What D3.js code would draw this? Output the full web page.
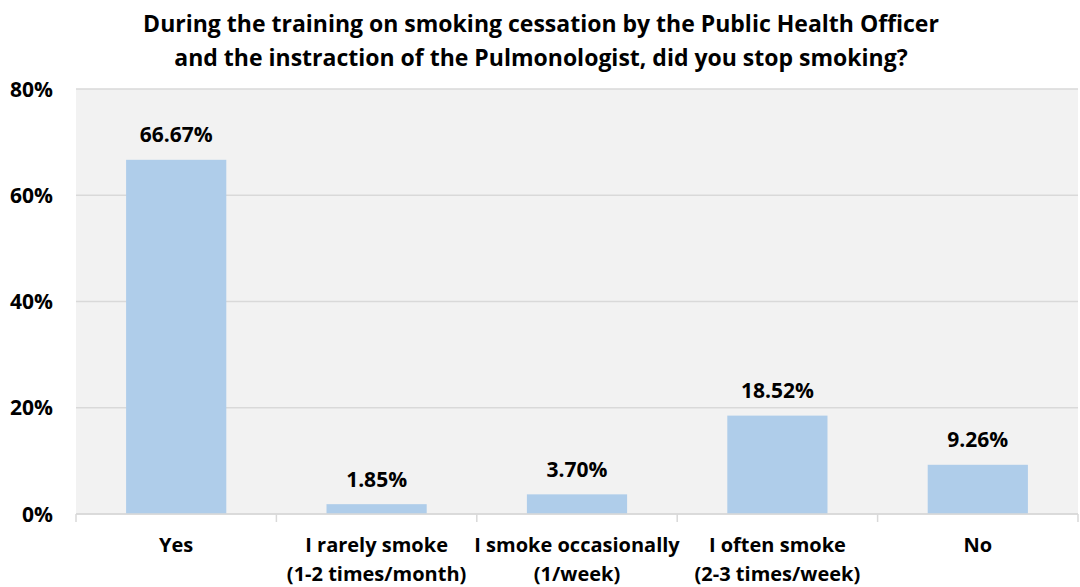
<!DOCTYPE html>
<html>
<head>
<meta charset="utf-8" />
<title>Smoking cessation</title>
<script src="https://d3js.org/d3.v7.min.js"></script>
<style>
  body { margin: 0; background: #fff; }
  text { font-family: "Open Sans", sans-serif; font-weight: bold; fill: #000; }
</style>
</head>
<body>
<script>
// data
const categories = [
  ["Yes"],
  ["I rarely smoke", "(1-2 times/month)"],
  ["I smoke occasionally", "(1/week)"],
  ["I often smoke", "(2-3 times/week)"],
  ["No"]
];
const values = [66.67, 1.85, 3.70, 18.52, 9.26];
const yTicks = [0, 20, 40, 60, 80];
const titleLines = [
  "During the training on smoking cessation by the Public Health Officer",
  "and the instraction of the Pulmonologist, did you stop smoking?"
];

const width = 1080, height = 587;
const margin = { top: 89, right: 2, bottom: 73, left: 76 };
const innerW = width - margin.left - margin.right;
const innerH = height - margin.top - margin.bottom;

const svg = d3.select("body").append("svg")
  .attr("width", width)
  .attr("height", height);

// title
svg.append("g").selectAll("text")
  .data(titleLines)
  .join("text")
  .attr("x", 541)
  .attr("y", (d, i) => 32 + i * 34)
  .attr("text-anchor", "middle")
  .style("font-size", "23px")
  .text(d => d);

const g = svg.append("g").attr("transform", `translate(${margin.left},${margin.top})`);

const x = d3.scaleBand()
  .domain(d3.range(values.length))
  .range([0, innerW])
  .paddingInner(0.5)
  .paddingOuter(0.25);

const y = d3.scaleLinear().domain([0, 80]).range([innerH, 0]);

// plot background
g.append("rect")
  .attr("width", innerW)
  .attr("height", innerH)
  .attr("fill", "#f2f2f2");

// gridlines
g.append("g").selectAll("line")
  .data(yTicks)
  .join("line")
  .attr("x1", 0).attr("x2", innerW)
  .attr("y1", d => y(d)).attr("y2", d => y(d))
  .attr("stroke", "#d9d9d9")
  .attr("stroke-width", 1.5);

// y labels
g.append("g").selectAll("text")
  .data(yTicks)
  .join("text")
  .attr("x", -23)
  .attr("y", d => y(d) + 7.5)
  .attr("text-anchor", "end")
  .style("font-size", "21px")
  .text(d => d + "%");

// bars
g.append("g").selectAll("rect")
  .data(values)
  .join("rect")
  .attr("x", (d, i) => x(i))
  .attr("y", d => y(d))
  .attr("width", x.bandwidth())
  .attr("height", d => innerH - y(d))
  .attr("fill", "#afcdea");

// value labels
g.append("g").selectAll("text")
  .data(values)
  .join("text")
  .attr("x", (d, i) => x(i) + x.bandwidth() / 2)
  .attr("y", d => y(d) - 17.5)
  .attr("text-anchor", "middle")
  .style("font-size", "21px")
  .text(d => d.toFixed(2) + "%");

// x axis
const step = innerW / values.length;
const axis = g.append("g").attr("transform", `translate(0,${innerH})`);
axis.append("line")
  .attr("x1", 0).attr("x2", innerW)
  .attr("stroke", "#d9d9d9").attr("stroke-width", 1.5);
axis.selectAll(".tick")
  .data(d3.range(values.length + 1))
  .join("line")
  .attr("class", "tick")
  .attr("x1", d => d * step).attr("x2", d => d * step)
  .attr("y1", 0).attr("y2", 8)
  .attr("stroke", "#d9d9d9").attr("stroke-width", 1.5);

const cat = axis.selectAll(".cat")
  .data(categories)
  .join("text")
  .attr("class", "cat")
  .attr("text-anchor", "middle")
  .attr("transform", (d, i) => `translate(${x(i) + x.bandwidth() / 2},0)`)
  .style("font-size", "20px");
cat.selectAll("tspan")
  .data(d => d)
  .join("tspan")
  .attr("x", 0)
  .attr("y", (d, i) => 38 + i * 29)
  .text(d => d);
</script>
</body>
</html>
